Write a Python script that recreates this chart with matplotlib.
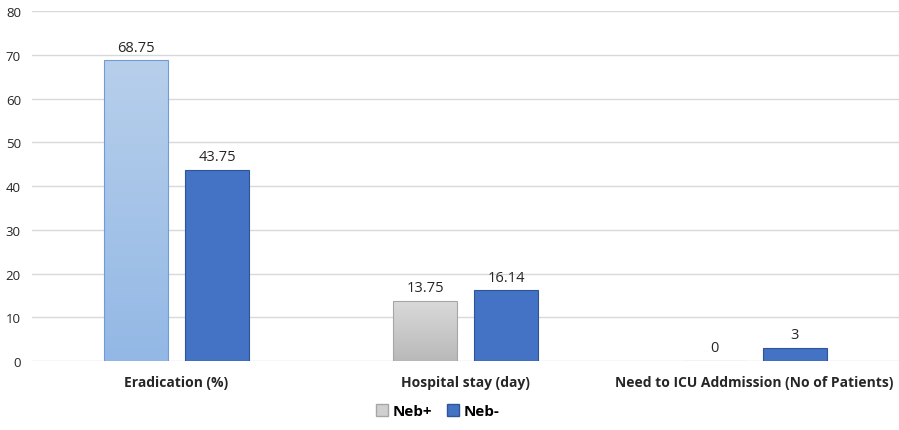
import numpy as np
import matplotlib.pyplot as plt
from matplotlib.patches import Patch

plt.rcParams['font.family'] = ['Open Sans', 'DejaVu Sans']

# --- data ---
categories = ['Eradication (%)', 'Hospital stay (day)', 'Need to ICU Addmission (No of Patients)']
neb_plus = [68.75, 13.75, 0]
neb_minus = [43.75, 16.14, 3]
plus_labels = ['68.75', '13.75', '0']
minus_labels = ['43.75', '16.14', '3']
yticks = [0, 10, 20, 30, 40, 50, 60, 70, 80]

# gradient colours for Neb+ bars (top, bottom) and their edges
plus_grad = [('#b7cfeb', '#93b8e5'), ('#dadada', '#b9b9b9'), ('#dadada', '#b9b9b9')]
plus_edge = ['#6f9bd6', '#a6a6a6', '#a6a6a6']
minus_color = '#4472c4'
minus_edge = '#2f5597'

fig = plt.figure(figsize=(8.99, 4.31), dpi=100)
ax = fig.add_axes([0.0356, 0.160, 0.9644, 0.812])

x = np.arange(len(categories))
w = 0.22
off = 0.14

def gradient_bar(ax, xc, h, c_top, c_bot, edge):
    bar = ax.bar(xc, h, w, color='none', edgecolor=edge, linewidth=0.8, zorder=3)[0]
    if h <= 0:
        return
    top = np.array(plt.matplotlib.colors.to_rgb(c_top))
    bot = np.array(plt.matplotlib.colors.to_rgb(c_bot))
    t = np.linspace(0, 1, 256)[:, None]
    img = (top * (1 - t) + bot * t)[:, None, :]
    im = ax.imshow(img, extent=[xc - w / 2, xc + w / 2, 0, h], origin='upper',
                   aspect='auto', zorder=2)
    im.set_clip_path(bar)

for i in range(len(categories)):
    gradient_bar(ax, x[i] - off, neb_plus[i], plus_grad[i][0], plus_grad[i][1], plus_edge[i])
    ax.text(x[i] - off, neb_plus[i] + 1.3, plus_labels[i], ha='center', va='bottom',
            fontsize=10.5, color='#262626')

ax.bar(x + off, neb_minus, w, color=minus_color, edgecolor=minus_edge, linewidth=0.8, zorder=3)
for i in range(len(categories)):
    ax.text(x[i] + off, neb_minus[i] + 1.3, minus_labels[i], ha='center', va='bottom',
            fontsize=10.5, color='#262626')

ax.set_xlim(-0.5, 2.5)
ax.set_ylim(0, 80)
ax.set_yticks(yticks)
ax.set_yticklabels([str(v) for v in yticks], fontsize=9.5, color='#262626')
ax.set_xticks(x)
ax.set_xticklabels(categories, fontsize=10, fontweight='bold', color='#262626')
ax.tick_params(axis='both', length=0)
ax.tick_params(axis='x', pad=10)
ax.tick_params(axis='y', pad=8)
ax.grid(axis='y', color='#d9d9d9', linewidth=1, zorder=0)
ax.set_axisbelow(True)
for s in ax.spines.values():
    s.set_visible(False)

handles = [Patch(facecolor='#d0d0d0', edgecolor='#a6a6a6', label='Neb+'),
           Patch(facecolor=minus_color, edgecolor=minus_edge, label='Neb-')]
fig.legend(handles=handles, loc='center', bbox_to_anchor=(0.487, 0.044), ncol=2,
           frameon=False, prop={'size': 11, 'weight': 'bold'}, handlelength=0.8,
           handleheight=0.8, handletextpad=0.3, columnspacing=1.0)

fig.savefig('out.png', dpi=100)
